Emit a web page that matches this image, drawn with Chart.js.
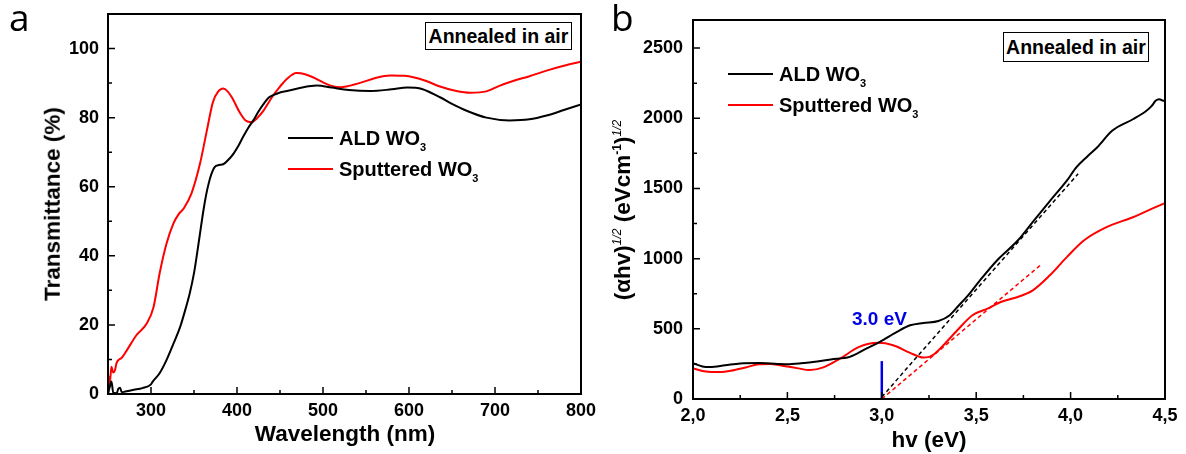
<!DOCTYPE html>
<html>
<head>
<meta charset="UTF-8">
<title>WO3 transmittance and Tauc plot</title>
<style>
body{margin:0;background:#fff;font-family:"Liberation Sans",Arial,sans-serif;}
#wrap{position:relative;width:1186px;height:454px;overflow:hidden;}
canvas{position:absolute;top:0;}
.t{position:absolute;white-space:nowrap;font-weight:bold;color:#000;line-height:1;}
.c{transform:translate(-50%,-50%);}
.rot{transform:translate(-50%,-50%) rotate(-90deg);}
.box{position:absolute;border:1px solid #000;font-weight:bold;font-size:19.5px;line-height:26px;text-align:center;box-sizing:border-box;white-space:nowrap;background:#fff;}
.leg{position:absolute;display:flex;align-items:center;height:20px;font-weight:bold;font-size:20px;white-space:nowrap;}
.leg i{display:inline-block;width:45px;height:2px;margin-right:6px;}
.letter{position:absolute;font-family:"Open Sans",sans-serif;font-size:37px;line-height:37px;color:#000;}
sub{font-size:11px;vertical-align:-6px;line-height:0;}
sup{font-size:12px;vertical-align:9px;line-height:0;}
</style>
</head>
<body>
<div id="wrap">
	<canvas id="chartA" width="610" height="454" style="left:0"></canvas>
	<canvas id="chartB" width="593" height="454" style="left:593px"></canvas>

	<!-- panel a -->
	<div class="letter" style="left:9px;top:-2px">a</div>
	<div class="box" style="left:425px;top:22px;width:147px;height:28px">Annealed in air</div>
	<div class="leg" style="left:288px;top:128px"><i style="background:#000"></i><span>ALD WO<sub>3</sub></span></div>
	<div class="leg" style="left:288px;top:159px"><i style="background:#f00"></i><span>Sputtered WO<sub>3</sub></span></div>
	<div class="t c" style="left:345px;top:434px;font-size:22.5px">Wavelength (nm)</div>
	<div class="t rot" style="left:53px;top:204px;font-size:22.5px">Transmittance (%)</div>

	<!-- panel b -->
	<div class="letter" style="left:611px;top:-2px">b</div>
	<div class="box" style="left:1003px;top:32px;width:146px;height:30px;line-height:28px">Annealed in air</div>
	<div class="leg" style="left:728px;top:64px"><i style="background:#000"></i><span>ALD WO<sub>3</sub></span></div>
	<div class="leg" style="left:728px;top:95px"><i style="background:#f00"></i><span>Sputtered WO<sub>3</sub></span></div>
	<div class="t c" style="left:929px;top:440px;font-size:22.5px">hv (eV)</div>
	<div class="t rot" style="left:623px;top:210px;font-size:22.5px">(&alpha;hv)<sup style="font-weight:normal;font-style:italic">1/2</sup> (eVcm<sup>-1</sup>)<sup style="font-weight:normal;font-style:italic">1/2</sup></div>
	<div class="t" style="left:852px;top:309px;font-size:19px;color:#0000e6">3.0 eV</div>
</div>
<script src="https://cdn.jsdelivr.net/npm/chart.js@4.4.0/dist/chart.umd.min.js"></script>
<script type="text/javascript">
// ---- panel a : transmittance ----
const waveAld = [250,252,254,256,258,260,262,264,266,270,280,290,300,302,310,318,326,334,340,345,350,353,357,361,364,367,370,374,379,384,390,396,402,407,413,419,425,431,437,442,450,458,473,493,510,530,555,580,598,615,636,650,667,690,717,740,760,780,800];
const transAld = [0,2,3.6,0.5,0.3,0.2,1.5,1.8,0.5,0.7,1.2,1.7,2.8,3.6,6,9.8,14.5,19.5,24.5,29.1,35,39.7,46.5,53.2,57.5,60.9,63.5,65.7,66.3,66.5,67.8,69.6,72,74.4,77,79.2,81.8,84,85.8,86.5,87.3,87.7,88.6,89.3,88.7,88,87.7,88.2,88.7,88.3,85.9,84,82,80,79.2,79.5,80.6,82.2,83.8];

const waveSput = [250,251,252,254,256,258,260,262,266,272,283,295,303,310,318,326,332,338,347,357,365,372,378,384,389,394,403,410,417,424,431,442,450,458,469,480,490,500,510,520,530,545,560,578,595,605,620,636,655,671,690,705,721,740,760,780,800];
const transSput = [0,5,3,7.9,6.2,6.8,9,9.8,10.5,12.7,17,20.4,25.2,34.9,43.5,49.3,52,53.7,58,66.7,76.3,84.5,87.5,88.4,87.6,85.9,81.6,79.2,78.7,80,82.1,86.4,89,91.2,92.9,92.5,91.5,90.2,89.2,88.8,89.2,90.2,91.4,92.2,92.1,91.7,90.6,89,87.7,87.2,87.6,89.2,90.6,92,93.6,95,96.2];

const xTicksA = [300,400,500,600,700,800];
const xMinorA = [350,450,550,650,750];
const yTicksA = [0,20,40,60,80,100];
const yMinorA = [10,30,50,70,90];

// ---- panel b : Tauc plot ----
const energyAld = [2.0,2.05,2.09,2.17,2.25,2.35,2.45,2.51,2.6,2.73,2.83,2.92,2.99,3.08,3.15,3.22,3.30,3.36,3.41,3.45,3.52,3.61,3.72,3.80,3.89,3.98,4.03,4.09,4.14,4.22,4.33,4.40,4.43,4.45,4.47,4.49,4.5];
const taucAld = [255,232,228,240,253,256,250,248,258,282,300,360,407,478,525,542,556,597,670,727,845,987,1129,1262,1410,1555,1650,1730,1792,1911,1993,2052,2088,2124,2136,2125,2130];

const energySput = [2.0,2.05,2.1,2.15,2.2,2.28,2.35,2.41,2.46,2.55,2.62,2.69,2.78,2.88,2.98,3.06,3.15,3.22,3.25,3.27,3.31,3.40,3.48,3.56,3.63,3.72,3.80,3.89,3.98,4.07,4.19,4.33,4.49,4.5];
const taucSput = [218,200,192,192,201,225,248,250,241,220,206,225,289,371,400,383,329,296,300,312,360,490,597,644,691,727,774,881,1011,1129,1224,1295,1390,1395];

// linear fits (dashed) and band gap marker
const fitAldE = [3.0, 4.04];
const fitAldY = [15, 1605];
const fitSputE = [3.0, 3.85];
const fitSputY = [0, 965];
const gapE = [3.0, 3.0];
const gapY = [0, 270];

const xTicksB = [2.0,2.5,3.0,3.5,4.0,4.5];
const xMinorB = [2.25,2.75,3.25,3.75,4.25];
const yTicksB = [0,500,1000,1500,2000,2500];
const yMinorB = [250,750,1250,1750,2250];

function pts(xs, ys) {
	return xs.map(function(v, i){ return {x: v, y: ys[i]}; });
}

// inward ticks + box frame
const frameTicks = {
	id: 'frameTicks',
	afterDraw: function(chart, args, opts) {
		const ctx = chart.ctx, a = chart.chartArea;
		const x = chart.scales.x, y = chart.scales.y;
		ctx.save();
		ctx.strokeStyle = '#000';
		ctx.lineWidth = 1.5;
		ctx.beginPath();
		opts.xMajor.forEach(function(v){ const p = x.getPixelForValue(v); ctx.moveTo(p, a.bottom); ctx.lineTo(p, a.bottom - 7); });
		opts.xMinor.forEach(function(v){ const p = x.getPixelForValue(v); ctx.moveTo(p, a.bottom); ctx.lineTo(p, a.bottom - 4); });
		opts.yMajor.forEach(function(v){ const p = y.getPixelForValue(v); ctx.moveTo(a.left, p); ctx.lineTo(a.left + 7, p); });
		opts.yMinor.forEach(function(v){ const p = y.getPixelForValue(v); ctx.moveTo(a.left, p); ctx.lineTo(a.left + 4, p); });
		ctx.stroke();
		ctx.lineWidth = 2;
		ctx.strokeRect(a.left, a.top, a.right - a.left, a.bottom - a.top);
		ctx.restore();
	}
};

Chart.defaults.font.family = '"Liberation Sans", Arial, sans-serif';
Chart.defaults.font.weight = 'bold';
Chart.defaults.font.size = 18;
Chart.defaults.color = '#000';

function curve(data, color, extra) {
	return Object.assign({
		data: data,
		borderColor: color,
		borderWidth: 2,
		pointRadius: 0,
		fill: false,
		cubicInterpolationMode: 'monotone'
	}, extra || {});
}

function makeChart(id, sets, cfg) {
	return new Chart(document.getElementById(id), {
		type: 'line',
		data: { datasets: sets },
		options: {
			responsive: false,
			animation: false,
			layout: { padding: cfg.padding },
			plugins: {
				legend: { display: false },
				tooltip: { enabled: false },
				frameTicks: { xMajor: cfg.xTicks, xMinor: cfg.xMinor, yMajor: cfg.yTicks, yMinor: cfg.yMinor }
			},
			scales: {
				x: {
					type: 'linear',
					min: cfg.xMin, max: cfg.xMax,
					grid: { display: false, drawTicks: false },
					border: { display: false },
					ticks: { padding: 6, maxRotation: 0, autoSkip: false, callback: cfg.xFmt },
					afterBuildTicks: function(s){ s.ticks = cfg.xTicks.map(function(v){ return {value: v}; }); },
					afterFit: function(s){ s.height = cfg.xHeight; s.paddingLeft = 0; s.paddingRight = 0; }
				},
				y: {
					min: cfg.yMin, max: cfg.yMax,
					grid: { display: false, drawTicks: false },
					border: { display: false },
					ticks: { padding: cfg.yPad, autoSkip: false, callback: function(v){ return String(v); } },
					afterBuildTicks: function(s){ s.ticks = cfg.yTicks.map(function(v){ return {value: v}; }); },
					afterFit: function(s){ s.width = cfg.yWidth; s.paddingTop = 0; s.paddingBottom = 0; }
				}
			}
		},
		plugins: [frameTicks]
	});
}

makeChart('chartA', [
	curve(pts(waveAld, transAld), '#000000'),
	curve(pts(waveSput, transSput), '#ff0000')
], {
	padding: { left: 0, right: 29, top: 14, bottom: 0 },
	xMin: 250, xMax: 800, yMin: 0, yMax: 110,
	xTicks: xTicksA, xMinor: xMinorA, yTicks: yTicksA, yMinor: yMinorA,
	xHeight: 60, yWidth: 108, yPad: 9,
	xFmt: function(v){ return String(v); }
});

makeChart('chartB', [
	curve(pts(fitAldE, fitAldY), '#000000', { borderWidth: 1.5, borderDash: [4, 3], cubicInterpolationMode: 'default' }),
	curve(pts(fitSputE, fitSputY), '#ff0000', { borderWidth: 1.5, borderDash: [4, 3], cubicInterpolationMode: 'default' }),
	curve(pts(gapE, gapY), '#0000e6', { borderWidth: 2.5, cubicInterpolationMode: 'default' }),
	curve(pts(energyAld, taucAld), '#000000'),
	curve(pts(energySput, taucSput), '#ff0000')
], {
	padding: { left: 0, right: 21, top: 20, bottom: 0 },
	xMin: 2.0, xMax: 4.5, yMin: 0, yMax: 2700,
	xTicks: xTicksB, xMinor: xMinorB, yTicks: yTicksB, yMinor: yMinorB,
	xHeight: 55, yWidth: 100, yPad: 10,
	xFmt: function(v){ return Number(v).toFixed(1).replace('.', ','); }
});
</script>
</body>
</html>
